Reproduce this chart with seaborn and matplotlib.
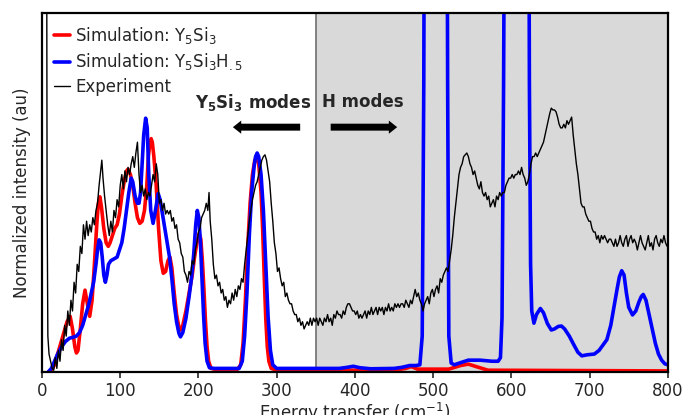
import numpy as np
import matplotlib
matplotlib.use("Agg")
import matplotlib.pyplot as plt
import seaborn as sns

# Simulation: Y5Si3 (energy in cm^-1, normalized intensity)
red_energy = [8, 12, 16, 20, 24, 28, 32, 36, 39, 42, 44, 46, 49, 52, 55, 58, 61, 64, 67, 70,
              72, 74, 76, 79, 82, 84.7, 87, 90, 93, 96, 99, 102, 105, 108, 110, 113, 116, 119,
              122, 125, 128, 131, 134, 136, 138, 139.5, 141, 143, 146, 149, 152, 155, 158, 161,
              163.5, 166, 169, 172, 175, 177, 180, 184, 188, 192, 195, 198, 201, 203, 205, 207,
              209, 211, 213, 216, 220, 250, 254, 257, 260, 263, 266, 269, 272, 274.4, 277, 280,
              282, 284, 286, 288, 290, 293, 300, 450, 465, 472, 480, 520, 535, 545, 555, 570, 800]
red_intensity = [0.0, 0.005, 0.02, 0.05, 0.08, 0.11, 0.14, 0.155, 0.12, 0.07, 0.053, 0.06, 0.12,
                 0.19, 0.228, 0.19, 0.155, 0.2, 0.3, 0.41, 0.47, 0.488, 0.46, 0.4, 0.36, 0.35,
                 0.36, 0.38, 0.4, 0.41, 0.44, 0.49, 0.53, 0.56, 0.565, 0.55, 0.52, 0.47, 0.43,
                 0.414, 0.42, 0.45, 0.52, 0.6, 0.64, 0.65, 0.64, 0.6, 0.52, 0.4, 0.31, 0.275,
                 0.28, 0.31, 0.32, 0.29, 0.22, 0.16, 0.125, 0.117, 0.13, 0.17, 0.22, 0.27, 0.32,
                 0.36, 0.386, 0.37, 0.31, 0.23, 0.14, 0.07, 0.03, 0.01, 0.008, 0.008, 0.02, 0.08,
                 0.2, 0.35, 0.47, 0.55, 0.59, 0.6, 0.58, 0.5, 0.4, 0.27, 0.15, 0.07, 0.03, 0.01,
                 0.005, 0.005, 0.01, 0.015, 0.008, 0.008, 0.018, 0.022, 0.015, 0.005, 0.003]

# Simulation: Y5Si3H.5
blue_energy = [8, 12, 16, 20, 25, 30, 35, 40, 44, 48, 52, 56, 60, 63, 66, 69, 71, 73, 75, 77,
               79, 81, 83, 85, 88, 92, 96, 99, 102, 105, 108, 111, 114, 116, 119, 122, 124, 126,
               128, 130, 132.5, 134.5, 136.5, 139, 142, 145, 148.5, 151, 154, 157, 160, 163, 166,
               169, 172, 175, 177, 180, 184, 188, 191, 194, 196.5, 198.5, 200.5, 202.5, 204.5,
               206.5, 208.5, 211, 214, 220, 252, 256, 259, 262, 265, 268, 271, 273, 275, 277, 280,
               283, 286, 289, 292, 295, 300, 380, 390, 398, 406, 420, 450, 460, 470, 478, 483,
               486, 488, 489.5, 491, 515, 517, 518.5, 520, 523, 527, 535, 545, 560, 575, 583, 586,
               588, 590, 592.5, 594, 620, 621.5, 623, 624.5, 626, 628.8, 632, 637, 641, 646, 651,
               655, 660, 664, 668, 674, 680, 685, 690, 697, 706, 712, 717, 722, 727, 731, 735,
               738, 741, 744, 747, 750, 754.8, 759, 763, 766, 768.5, 772, 776, 780, 784, 788, 792,
               796, 800]
blue_intensity = [0.0, 0.01, 0.03, 0.05, 0.07, 0.085, 0.094, 0.097, 0.1, 0.11, 0.13, 0.16, 0.19,
                  0.22, 0.25, 0.3, 0.34, 0.368, 0.36, 0.32, 0.27, 0.25, 0.27, 0.3, 0.31, 0.315,
                  0.32, 0.34, 0.36, 0.4, 0.45, 0.5, 0.54, 0.53, 0.49, 0.47, 0.47, 0.5, 0.58, 0.66,
                  0.707, 0.68, 0.55, 0.45, 0.414, 0.45, 0.497, 0.48, 0.44, 0.4, 0.36, 0.32, 0.26,
                  0.19, 0.14, 0.108, 0.098, 0.11, 0.15, 0.21, 0.26, 0.33, 0.41, 0.45, 0.43, 0.36,
                  0.26, 0.16, 0.08, 0.03, 0.012, 0.01, 0.01, 0.03, 0.1, 0.22, 0.38, 0.5, 0.57, 0.6,
                  0.61, 0.6, 0.55, 0.45, 0.3, 0.154, 0.06, 0.02, 0.01, 0.01, 0.013, 0.016, 0.012,
                  0.009, 0.01, 0.013, 0.018, 0.018, 0.02, 0.1, 0.8, 2.0, 3.0, 3.0, 2.0, 0.8, 0.1,
                  0.025, 0.02, 0.026, 0.033, 0.033, 0.03, 0.03, 0.04, 0.15, 0.8, 2.0, 3.0, 3.0, 2.0,
                  0.8, 0.3, 0.17, 0.136, 0.16, 0.177, 0.165, 0.135, 0.117, 0.12, 0.127, 0.128,
                  0.12, 0.1, 0.075, 0.055, 0.045, 0.048, 0.05, 0.06, 0.075, 0.09, 0.13, 0.18, 0.23,
                  0.265, 0.282, 0.27, 0.22, 0.18, 0.159, 0.17, 0.195, 0.21, 0.216, 0.2, 0.16, 0.12,
                  0.08, 0.05, 0.033, 0.023, 0.02]

# Experiment
exp_energy = [5.8, 6.5, 7.5, 9, 11, 13, 15, 17, 19, 21, 23, 25, 27, 29, 31, 33, 35, 37, 39, 41,
              43, 45, 47, 49, 51, 53, 55, 57, 59, 61, 63, 65, 67, 69, 71, 73, 75, 76.5, 78, 80,
              82, 84, 86, 88, 90, 92, 94, 96, 98, 100, 102, 104, 106, 108, 110, 112, 114, 116,
              118, 120, 122, 124, 126, 128, 130, 132, 134, 136, 138, 140, 142, 144, 146, 148,
              150, 152, 154, 156, 158, 160, 162, 164, 166, 168, 170, 172, 174, 176, 178, 180,
              182, 184, 186, 188, 190, 192, 194, 196, 198, 200, 202, 204, 206, 208, 210, 212,
              213.5, 215, 217, 219, 221, 223, 225, 227, 229, 231, 233, 235, 237, 239, 241, 243,
              245, 247, 249, 251, 253, 255, 257, 259, 261, 263, 265, 267, 269, 271, 273, 275,
              277, 279, 281, 283, 285, 287, 289, 291, 293, 295, 297, 299, 301, 303, 305, 307,
              309, 311, 313, 315, 317, 319, 321, 323, 325, 327, 329, 331, 333, 335, 337, 339,
              341, 343, 345, 347, 349, 351, 353, 355, 357, 359, 361, 363, 365, 367, 369, 371,
              373, 375, 377, 379, 381, 383, 385, 387, 389, 391, 393, 395, 397, 399, 401, 403,
              405, 407, 409, 411, 413, 415, 417, 419, 421, 423, 425, 427, 429, 431, 433, 435,
              437, 439, 441, 443, 445, 447, 449, 451, 453, 455, 457, 459, 461, 463, 465, 467,
              469, 471, 473, 475, 477, 479, 481, 483, 485, 487, 489, 491, 493, 495, 497, 499,
              501, 503, 505, 507, 509, 511, 513, 515, 517, 519, 521, 523, 525, 527, 529, 531,
              533, 535, 537, 539, 541, 543, 545, 547, 549, 551, 553, 555, 557, 559, 561, 563,
              565, 567, 569, 571, 573, 575, 577, 579, 581, 583, 585, 587, 589, 591, 593, 595,
              597, 599, 601, 603, 605, 607, 609, 611, 613, 615, 617, 619, 621, 623, 625, 627,
              629, 631, 633, 635, 637, 639, 641, 643, 645, 647, 649, 651, 653, 655, 657, 659,
              661, 663, 665, 667, 669, 671, 673, 675, 677, 679, 681, 683, 685, 687, 689, 691,
              693, 695, 697, 699, 701, 703, 705, 707, 709, 711, 713, 715, 717, 719, 721, 723,
              725, 727, 729, 731, 733, 735, 737, 739, 741, 743, 745, 747, 749, 751, 753, 755,
              757, 759, 761, 763, 765, 767, 769, 771, 773, 775, 777, 779, 781, 783, 785, 787,
              789, 791, 793, 795, 797, 799]
exp_intensity = [1.5, 0.5, 0.1, 0.05, 0.03, 0.01, 0.005, 0.04, 0.01, 0.06, 0.03, 0.09, 0.06,
                 0.13, 0.1, 0.17, 0.13, 0.2, 0.17, 0.25, 0.22, 0.3, 0.28, 0.35, 0.33, 0.41, 0.37,
                 0.42, 0.38, 0.41, 0.39, 0.43, 0.41, 0.45, 0.47, 0.52, 0.56, 0.59, 0.54, 0.49,
                 0.45, 0.41, 0.38, 0.42, 0.39, 0.45, 0.43, 0.48, 0.46, 0.52, 0.55, 0.51, 0.56,
                 0.53, 0.57, 0.55, 0.58, 0.6, 0.57, 0.61, 0.64, 0.55, 0.5, 0.52, 0.49, 0.51, 0.48,
                 0.5, 0.49, 0.52, 0.55, 0.53, 0.58, 0.55, 0.47, 0.48, 0.45, 0.47, 0.44, 0.45, 0.44,
                 0.45, 0.42, 0.43, 0.4, 0.41, 0.37, 0.36, 0.33, 0.32, 0.28, 0.27, 0.25, 0.28, 0.27,
                 0.31, 0.3, 0.34, 0.36, 0.39, 0.4, 0.43, 0.44, 0.45, 0.47, 0.45, 0.5, 0.42, 0.37,
                 0.3, 0.26, 0.27, 0.24, 0.25, 0.22, 0.23, 0.2, 0.21, 0.18, 0.2, 0.19, 0.22, 0.2,
                 0.23, 0.21, 0.24, 0.23, 0.26, 0.25, 0.3, 0.34, 0.38, 0.42, 0.45, 0.48, 0.5, 0.52,
                 0.53, 0.55, 0.57, 0.59, 0.6, 0.605, 0.59, 0.56, 0.53, 0.47, 0.42, 0.36, 0.33,
                 0.28, 0.29, 0.26, 0.24, 0.25, 0.21, 0.22, 0.2, 0.19, 0.19, 0.17, 0.16, 0.16, 0.14,
                 0.15, 0.13, 0.14, 0.12, 0.13, 0.14, 0.13, 0.15, 0.13, 0.15, 0.14, 0.15, 0.13,
                 0.15, 0.14, 0.13, 0.15, 0.14, 0.16, 0.14, 0.15, 0.13, 0.16, 0.15, 0.17, 0.16,
                 0.16, 0.15, 0.17, 0.16, 0.18, 0.19, 0.19, 0.18, 0.17, 0.17, 0.16, 0.17, 0.15,
                 0.16, 0.15, 0.16, 0.17, 0.15, 0.17, 0.16, 0.18, 0.16, 0.17, 0.18, 0.16, 0.18,
                 0.17, 0.18, 0.16, 0.18, 0.17, 0.19, 0.17, 0.18, 0.17, 0.19, 0.18, 0.19, 0.18,
                 0.19, 0.19, 0.18, 0.2, 0.19, 0.18, 0.2, 0.19, 0.21, 0.23, 0.21, 0.22, 0.2, 0.19,
                 0.17, 0.19, 0.2, 0.21, 0.19, 0.22, 0.23, 0.21, 0.23, 0.24, 0.22, 0.26, 0.25,
                 0.27, 0.28, 0.29, 0.28, 0.31, 0.34, 0.38, 0.43, 0.47, 0.51, 0.55, 0.57, 0.58,
                 0.6, 0.605, 0.61, 0.6, 0.58, 0.57, 0.55, 0.56, 0.54, 0.52, 0.51, 0.53, 0.5, 0.49,
                 0.5, 0.48, 0.49, 0.46, 0.47, 0.48, 0.46, 0.49, 0.48, 0.5, 0.49, 0.5, 0.5, 0.52,
                 0.53, 0.54, 0.54, 0.55, 0.54, 0.55, 0.55, 0.56, 0.55, 0.57, 0.55, 0.54, 0.52,
                 0.53, 0.55, 0.58, 0.6, 0.6, 0.61, 0.6, 0.61, 0.62, 0.63, 0.64, 0.66, 0.68, 0.7,
                 0.72, 0.735, 0.73, 0.73, 0.725, 0.71, 0.69, 0.68, 0.68, 0.69, 0.68, 0.7, 0.69,
                 0.7, 0.71, 0.66, 0.62, 0.58, 0.55, 0.51, 0.47, 0.46, 0.46, 0.44, 0.43, 0.42, 0.42,
                 0.4, 0.39, 0.39, 0.37, 0.38, 0.36, 0.38, 0.37, 0.38, 0.37, 0.36, 0.37, 0.37,
                 0.36, 0.35, 0.37, 0.35, 0.36, 0.38, 0.36, 0.35, 0.37, 0.38, 0.35, 0.37, 0.38,
                 0.36, 0.37, 0.36, 0.34, 0.36, 0.38, 0.36, 0.35, 0.34, 0.36, 0.38, 0.35, 0.36,
                 0.34, 0.37, 0.38, 0.36, 0.35, 0.37, 0.36, 0.38, 0.36, 0.35]

sns.set_style("ticks")
plt.rcParams['font.family'] = ['DejaVu Sans']

fig = plt.figure(figsize=(6.85, 4.15), dpi=100)
ax = fig.add_axes([0.0613, 0.1036, 0.9137, 0.8651])

ax.axvspan(350, 800, color='#d9d9d9', lw=0, zorder=0)
ax.axvline(350, color='#707070', lw=1.2, zorder=1)

sns.lineplot(x=red_energy, y=red_intensity, ax=ax, color='#ff0000', lw=2.6,
             sort=False, estimator=None, label='Simulation: Y$_5$Si$_3$')
sns.lineplot(x=blue_energy, y=blue_intensity, ax=ax, color='#0000ff', lw=2.6,
             sort=False, estimator=None, label='Simulation: Y$_5$Si$_3$H$_{.5}$')
sns.lineplot(x=exp_energy, y=exp_intensity, ax=ax, color='black', lw=1.0,
             sort=False, estimator=None, label='Experiment')

ax.set_xlim(0, 800)
ax.set_ylim(0, 1.0)
ax.set_yticks([])
ax.set_xticks(range(0, 801, 100))
ax.tick_params(axis='x', labelsize=12, length=4, width=1.2)
ax.set_xlabel('Energy transfer (cm$^{-1}$)', fontsize=12, labelpad=0)
ax.set_ylabel('Normalized intensity (au)', fontsize=12, labelpad=8)
for s in ax.spines.values():
    s.set_linewidth(1.6)
    s.set_color('black')

ax.text(270, 0.752, 'Y$_\\mathbf{5}$Si$_\\mathbf{3}$ modes', fontsize=12, fontweight='bold',
        ha='center', va='center')
ax.text(410, 0.752, 'H modes', fontsize=12, fontweight='bold', ha='center', va='center')
arrow_style = 'simple,head_length=0.6,head_width=0.95,tail_width=0.5'
ax.annotate('', xy=(244, 0.682), xytext=(330, 0.682),
            arrowprops=dict(arrowstyle=arrow_style, color='black', lw=0,
                            shrinkA=0, shrinkB=0))
ax.annotate('', xy=(454, 0.682), xytext=(369, 0.682),
            arrowprops=dict(arrowstyle=arrow_style, color='black', lw=0,
                            shrinkA=0, shrinkB=0))

leg = ax.legend(loc='upper left', frameon=False, fontsize=12, handlelength=1.0,
                handletextpad=0.3, labelspacing=0.35, borderaxespad=0.3)

fig.savefig('out.png', dpi=100)
